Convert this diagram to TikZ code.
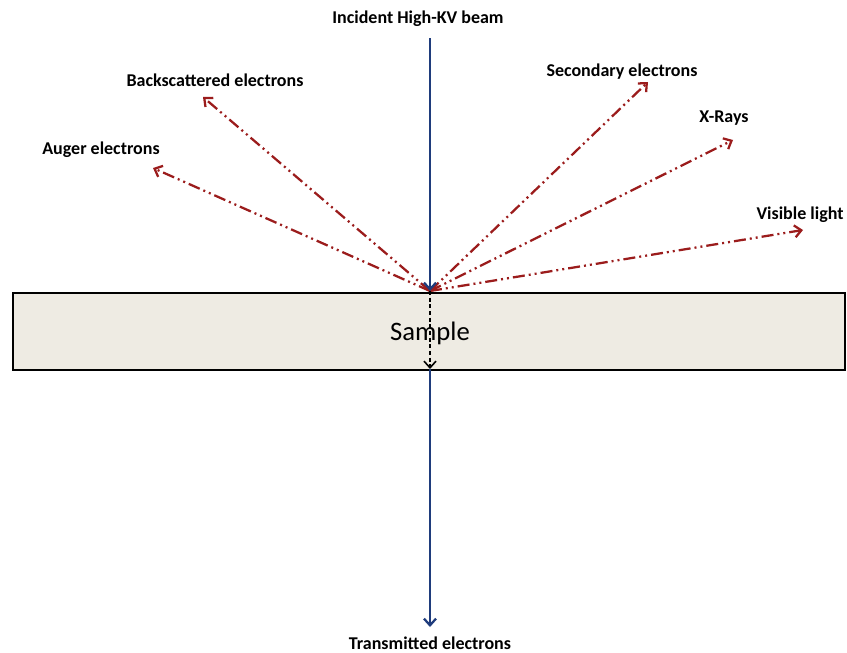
\documentclass[tikz,border=0pt]{standalone}
\usepackage{fontspec}
\setmainfont{Carlito}
\usetikzlibrary{arrows.meta, positioning, calc}

\definecolor{rayred}{HTML}{9B1C1C}
\definecolor{beamblue}{HTML}{1F3C7C}
\definecolor{samplefill}{HTML}{EEEBE3}

\begin{document}
\begin{tikzpicture}[
    x=0.75pt, y=-0.75pt,        % 1 unit = 1 px of the layout
    >={Straight Barb[length=5pt, width=9pt]},
    lab/.style={font=\fontsize{13.5}{16}\selectfont\bfseries, inner sep=1pt},
    beam/.style={->, draw=beamblue, line width=1.7pt},
    ray/.style={->, draw=rayred, line width=1.7pt,
        dash pattern=on 9pt off 3pt on 1.5pt off 3pt on 1.5pt off 3pt},
    inside/.style={->, draw=black, line width=1.2pt, dash pattern=on 3pt off 2pt},
    samplebox/.style={draw=black, line width=1.9pt, fill=samplefill,
        minimum width=832*0.75pt, minimum height=77*0.75pt, inner sep=0pt},
]
\useasboundingbox (0,0) rectangle (847,653);

% -------------------------------------------------
% Sample slab
% -------------------------------------------------
\node[samplebox] (sample) at (429,331.5) {};
\node[font=\fontsize{20}{24}\selectfont] (samplelab) at (430,333) {Sample};

% -------------------------------------------------
% Points on the beam axis
% -------------------------------------------------
\coordinate (src)   at (430,38);
\coordinate (hit)   at (430,291);
\coordinate (exit)  at (430,369);
\coordinate (trans) at (430,627);

% ends of the emitted rays
\coordinate (bseend) at (203,97);
\coordinate (augend) at (153,168);
\coordinate (seend)  at (648,82);
\coordinate (xrend)  at (733,140);
\coordinate (visend) at (803,230);

% -------------------------------------------------
% Labels
% -------------------------------------------------
\node[lab] (incident)  at (418,19)  {Incident High-KV beam};
\node[lab] (translab)  at (430,643) {Transmitted electrons};
\node[lab] (bselab)    at (215,80)  {Backscattered electrons};
\node[lab] (auglab)    at (101,150) {Auger electrons};
\node[lab] (selab)     at (622,72)  {Secondary electrons};
\node[lab] (xrlab)     at (724,118) {X-Rays};
\node[lab] (vislab)    at (800,215) {Visible light};

% -------------------------------------------------
% Beam and emissions
% -------------------------------------------------
\draw[ray] (hit) -- (bseend);
\draw[ray] (hit) -- (augend);
\draw[ray] (hit) -- (seend);
\draw[ray] (hit) -- (xrend);
\draw[ray] (hit) -- (visend);

\draw[beam] (src) -- (hit);
\draw[inside] (hit) -- (exit);
\draw[beam] (exit) -- (trans);

\end{tikzpicture}
\end{document}
